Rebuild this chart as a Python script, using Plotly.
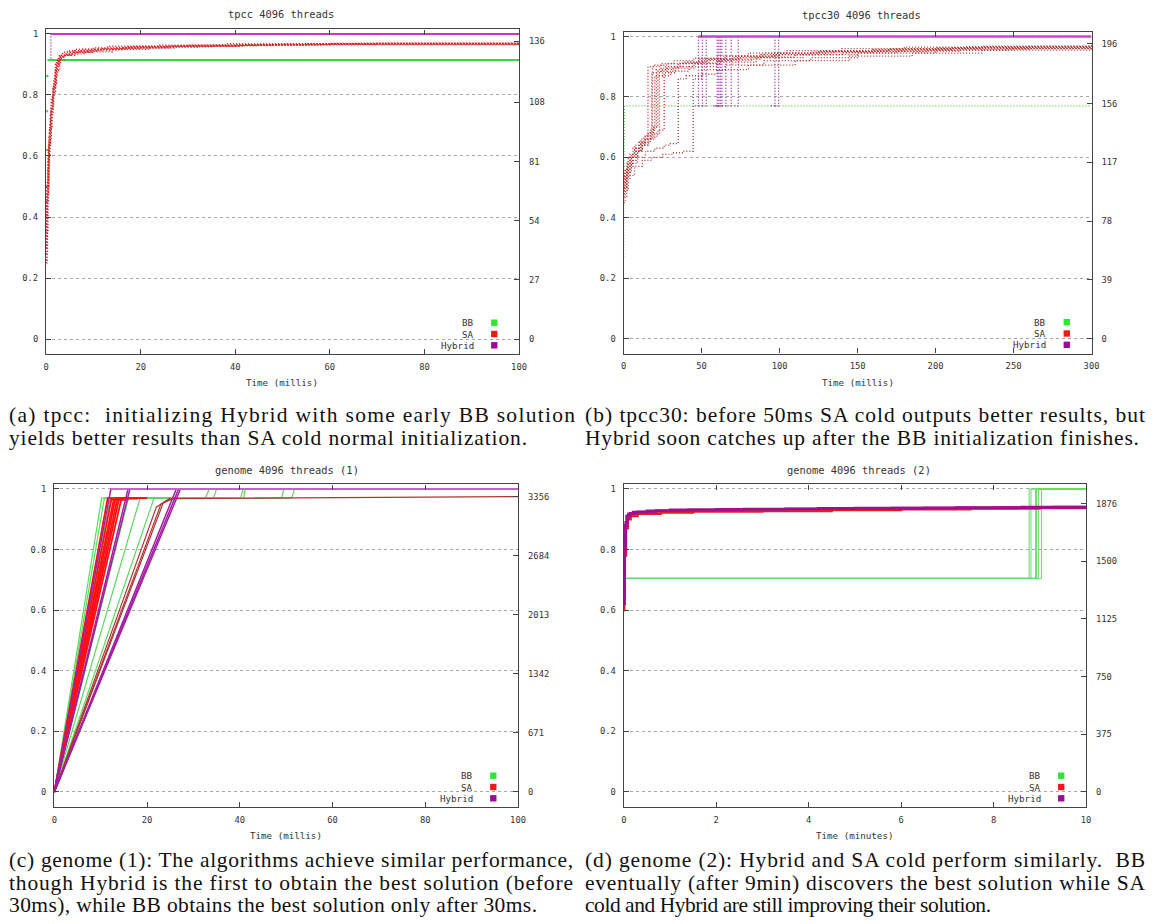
import json
import plotly.graph_objects as go

W, H = 1155, 924

# ------------------------------------------------------------------ data
Y_TICKS = [0, 0.2, 0.4, 0.6, 0.8, 1.0]
Y_RANGE = [-0.05, 1.015]

# (a) tpcc 4096 threads, time in ms
A_X_TICKS = [0, 20, 40, 60, 80, 100]
A_R_TICKS = [0, 27, 54, 81, 108, 136]
A_R_SCALE = 139.2
A_BB_EARLY_X = [0.10, 0.15, 0.20, 0.25]
A_BB_EARLY_Y = [0.50, 0.62, 0.747, 0.862]
A_BB_X = [0.3, 100]
A_BB_Y = [0.915, 0.915]
A_HYB_X = [1.0, 1.0, 100]
A_HYB_Y = [0.92, 1.0, 1.0]
A_SA_X = [
    [0, 0.2, 0.4, 0.7, 1.0, 1.4, 1.8, 2.2, 3, 5, 9, 15, 25, 40, 60, 100],
    [0, 0.3, 0.6, 0.9, 1.2, 1.6, 2.0, 2.6, 4, 7, 12, 20, 35, 55, 100],
    [0, 0.1, 0.5, 0.8, 1.1, 1.5, 1.9, 2.4, 3.5, 6, 10, 18, 30, 50, 100],
    [0, 0.4, 0.8, 1.2, 1.6, 2.0, 2.5, 3.2, 5, 8, 14, 22, 32, 48, 65, 100],
    [0, 0.3, 0.7, 1.3, 1.7, 2.1, 2.8, 4.5, 7.5, 13, 24, 38, 100],
    [0, 0.5, 0.9, 1.5, 1.9, 2.3, 3.0, 4.0, 6.5, 11, 17, 28, 45, 70, 100],
    [0, 0.6, 1.0, 1.5, 2.0, 2.7, 3.8, 6, 10, 16, 26, 42, 100],
    [0, 0.2, 0.6, 1.1, 1.6, 2.2, 2.9, 3.6, 5.5, 9.5, 16, 27, 41, 58, 100],
]
A_SA_Y = [
    [0.25, 0.45, 0.58, 0.68, 0.76, 0.82, 0.87, 0.91, 0.93, 0.94, 0.948, 0.955, 0.96, 0.965, 0.97, 0.97],
    [0.28, 0.52, 0.64, 0.72, 0.79, 0.85, 0.90, 0.925, 0.935, 0.945, 0.952, 0.958, 0.963, 0.968, 0.97],
    [0.30, 0.50, 0.62, 0.71, 0.78, 0.80, 0.86, 0.92, 0.94, 0.95, 0.955, 0.96, 0.964, 0.967, 0.97],
    [0.35, 0.60, 0.70, 0.77, 0.81, 0.88, 0.915, 0.93, 0.935, 0.942, 0.95, 0.957, 0.962, 0.966, 0.969, 0.97],
    [0.40, 0.56, 0.69, 0.80, 0.84, 0.90, 0.93, 0.945, 0.95, 0.96, 0.963, 0.968, 0.97],
    [0.45, 0.63, 0.74, 0.83, 0.88, 0.905, 0.925, 0.935, 0.945, 0.95, 0.958, 0.962, 0.966, 0.97, 0.97],
    [0.50, 0.66, 0.75, 0.82, 0.89, 0.915, 0.93, 0.94, 0.95, 0.955, 0.96, 0.965, 0.97],
    [0.26, 0.48, 0.65, 0.79, 0.83, 0.88, 0.92, 0.93, 0.94, 0.948, 0.954, 0.96, 0.964, 0.967, 0.97],
]

# (b) tpcc30 4096 threads, time in ms
B_X_TICKS = [0, 50, 100, 150, 200, 250, 300]
B_R_TICKS = [0, 39, 78, 117, 156, 196]
B_R_SCALE = 200.6
B_BB_X = [0, 0, 0.5, 300]
B_BB_Y = [0.27, 0.44, 0.77, 0.77]
B_HYB_JUMP_T = [48, 50.5, 53, 60, 61, 62, 63, 65.5, 69, 73.5, 97, 99.4]
B_HYB_START = 0.77
B_HYB_BEST = 1.0
B_SA_X = [
    [0, 1, 2, 4, 6, 9, 12, 15.6, 20, 28, 40, 55, 75, 100, 130, 170, 210, 260, 300],
    [0, 1.5, 3, 5, 8, 11, 14, 18, 24, 35, 50, 70, 95, 125, 160, 200, 250, 300],
    [0, 1, 2.5, 4, 7, 10, 13, 16, 19, 21, 27, 38, 52, 72, 98, 135, 180, 230, 300],
    [0, 2, 4, 6, 9, 12, 16, 20, 23, 30, 42, 60, 85, 115, 150, 195, 245, 300],
    [0, 1, 3, 5, 8, 12, 17, 22, 26, 33, 45, 62, 88, 120, 160, 210, 260, 300],
    [0, 2, 5, 9, 14, 20, 26, 30, 35, 40, 50, 65, 90, 120, 150, 200, 250, 300],
    [0, 3, 7, 12, 18, 25, 32, 38, 44.6, 50, 60, 80, 110, 145, 185, 230, 300],
    [0, 1, 2, 3, 5, 8, 11, 14, 18.5, 24, 32, 45, 60, 80, 105, 140, 180, 230, 300],
    [0, 1, 3, 6, 10, 14, 17, 20, 25, 32, 44, 60, 82, 110, 140, 175, 215, 260, 300],
    [0, 2, 4, 7, 11, 15, 19.5, 22, 28, 36, 48, 65, 90, 125, 170, 220, 300],
]
B_SA_Y = [
    [0.48, 0.52, 0.55, 0.58, 0.60, 0.62, 0.64, 0.90, 0.905, 0.91, 0.915, 0.925, 0.935, 0.945, 0.952, 0.958, 0.962, 0.966, 0.968],
    [0.50, 0.54, 0.57, 0.60, 0.62, 0.645, 0.66, 0.88, 0.895, 0.91, 0.92, 0.93, 0.94, 0.95, 0.956, 0.962, 0.966, 0.97],
    [0.52, 0.55, 0.58, 0.60, 0.63, 0.65, 0.67, 0.68, 0.70, 0.89, 0.90, 0.915, 0.925, 0.935, 0.945, 0.952, 0.96, 0.965, 0.972],
    [0.47, 0.53, 0.57, 0.60, 0.62, 0.64, 0.66, 0.68, 0.87, 0.885, 0.90, 0.915, 0.93, 0.94, 0.95, 0.955, 0.96, 0.962],
    [0.53, 0.56, 0.59, 0.61, 0.63, 0.65, 0.67, 0.69, 0.88, 0.895, 0.91, 0.925, 0.94, 0.948, 0.957, 0.963, 0.967, 0.97],
    [0.50, 0.55, 0.58, 0.60, 0.62, 0.63, 0.64, 0.645, 0.86, 0.87, 0.89, 0.905, 0.92, 0.93, 0.945, 0.955, 0.96, 0.965],
    [0.49, 0.54, 0.57, 0.59, 0.60, 0.61, 0.615, 0.62, 0.86, 0.875, 0.89, 0.905, 0.92, 0.935, 0.945, 0.955, 0.96],
    [0.45, 0.50, 0.53, 0.56, 0.59, 0.62, 0.64, 0.66, 0.90, 0.91, 0.92, 0.928, 0.935, 0.945, 0.953, 0.96, 0.965, 0.968, 0.972],
    [0.51, 0.56, 0.60, 0.63, 0.65, 0.67, 0.69, 0.87, 0.89, 0.90, 0.912, 0.922, 0.932, 0.94, 0.946, 0.952, 0.958, 0.962, 0.965],
    [0.54, 0.58, 0.61, 0.64, 0.66, 0.68, 0.70, 0.885, 0.90, 0.912, 0.925, 0.935, 0.945, 0.952, 0.96, 0.966, 0.97],
]

# (c) genome 4096 threads (1), time in ms
C_X_TICKS = [0, 20, 40, 60, 80, 100]
C_R_TICKS = [0, 671, 1342, 2013, 2684, 3356]
C_R_SCALE = 3442
C_BB_X = [
    [0, 10.2, 32.6, 33.4, 100],
    [0, 10.8, 34.3, 35.0, 100],
    [0, 12.1, 40.2, 40.7, 100],
    [0, 16.0, 40.8, 41.2, 100],
    [0, 18.5, 49.0, 49.5, 100],
    [0, 21.5, 51.2, 51.8, 100],
]
C_BB_Y = [[0, 0.97, 0.97, 1.0, 1.0]] * 6
C_SA_X = [
    [0, 11.5, 20], [0, 12.3, 15], [0, 12.8, 16], [0, 13.2, 17],
    [0, 13.6, 18], [0, 14.0, 19], [0, 14.5, 20],
]
C_SA_Y = [
    [0, 0.97, 0.97], [0, 0.965, 0.965], [0, 0.965, 0.965], [0, 0.97, 0.97],
    [0, 0.968, 0.968], [0, 0.97, 0.97], [0, 0.97, 0.97],
]
C_SA_SLOW_X = [[0, 23.0, 25.5, 100], [0, 22.0, 24.0, 26.0], [0, 23.5, 25.0]]
C_SA_SLOW_Y = [[0, 0.95, 0.968, 0.975], [0, 0.94, 0.96, 0.97], [0, 0.955, 0.97]]
C_HYB_X = [[0, 12.2, 100], [0, 15.9, 100], [0, 16.3, 100],
           [0, 26.3, 100], [0, 26.8, 100], [0, 27.2, 100]]
C_HYB_Y = [[0, 1.0, 1.0]] * 6

# (d) genome 4096 threads (2), time in minutes
D_X_TICKS = [0, 2, 4, 6, 8, 10]
D_R_TICKS = [0, 375, 750, 1125, 1500, 1876]
D_R_SCALE = 1970
D_BB_JUMP_T = [8.77, 8.81, 8.91, 8.93, 8.97, 9.04]
D_BB_START = 0.705
D_BB_BEST = 1.0
D_SA_X = [
    [0, 0.01, 0.02, 0.04, 0.07, 0.12, 0.25, 0.6, 1.2, 2.5, 4.0, 5.5, 7.0, 8.5, 10],
    [0, 0.02, 0.05, 0.09, 0.15, 0.3, 0.8, 1.5, 3.0, 4.5, 6.0, 7.5, 9.0, 10],
]
D_SA_Y = [
    [0.60, 0.72, 0.82, 0.88, 0.905, 0.915, 0.92, 0.925, 0.928, 0.93, 0.932, 0.934, 0.936, 0.938, 0.938],
    [0.62, 0.78, 0.87, 0.90, 0.91, 0.918, 0.922, 0.925, 0.927, 0.93, 0.933, 0.935, 0.937, 0.937],
]
D_HYB_X = [
    [0, 0.01, 0.03, 0.06, 0.1, 0.2, 0.5, 1.0, 2.0, 3.5, 5.0, 6.5, 8.0, 9.3, 10],
    [0, 0.02, 0.04, 0.08, 0.14, 0.3, 0.7, 1.4, 2.6, 4.2, 5.8, 7.2, 8.6, 10],
]
D_HYB_Y = [
    [0.62, 0.80, 0.88, 0.91, 0.918, 0.924, 0.928, 0.931, 0.933, 0.935, 0.937, 0.938, 0.939, 0.94, 0.94],
    [0.64, 0.82, 0.89, 0.912, 0.92, 0.925, 0.929, 0.931, 0.934, 0.936, 0.937, 0.939, 0.94, 0.94],
]

TITLES = ["tpcc 4096 threads", "tpcc30 4096 threads",
          "genome 4096 threads (1)", "genome 4096 threads (2)"]
XTITLES = ["Time (millis)", "Time (millis)", "Time (millis)", "Time (minutes)"]
LEGEND_NAMES = ["BB", "SA", "Hybrid"]
CAPTIONS = [
    ["(a) tpcc:  initializing Hybrid with some early BB solution",
     "yields better results than SA cold normal initialization."],
    ["(b) tpcc30: before 50ms SA cold outputs better results, but",
     "Hybrid soon catches up after the BB initialization finishes."],
    ["(c) genome (1): The algorithms achieve similar performance,",
     "though Hybrid is the first to obtain the best solution (before",
     "30ms), while BB obtains the best solution only after 30ms."],
    ["(d) genome (2): Hybrid and SA cold perform similarly.  BB",
     "eventually (after 9min) discovers the best solution while SA",
     "cold and Hybrid are still improving their solution."],
]

# ------------------------------------------------------------------ styling / layout
C_BB = "#2ee62e"
C_SA = "#ee1a1a"
C_HYB = "#9c0a9c"
MONO = "DejaVu Sans Mono"
TXT = "#333333"
DOTS = "1px,2px"

# plot area in pixels: left, right, y-pixel of value 0, pixels per unit of y
PANELS = [
    dict(x0=43.5, x1=521.0, zero=339.0, unit=305.0),
    dict(x0=626.6, x1=1099.0, zero=338.5, unit=302.0),
    dict(x0=51.8, x1=520.0, zero=792.0, unit=303.0),
    dict(x0=626.8, x1=1093.4, zero=792.0, unit=303.0),
]
X_RANGES = [[0, 100], [0, 300], [0, 100], [0, 10]]
X_TICKS = [A_X_TICKS, B_X_TICKS, C_X_TICKS, D_X_TICKS]
R_TICKS = [A_R_TICKS, B_R_TICKS, C_R_TICKS, D_R_TICKS]
R_SCALE = [A_R_SCALE, B_R_SCALE, C_R_SCALE, D_R_SCALE]
TITLE_POS = [(281, 14), (867, 15), (287, 470), (864, 470)]
XTITLE_POS = [(282, 382), (863, 382), (286, 835.5), (860, 835.5)]
CAPTION_POS = [(5, 415), (587, 415), (5, 860), (587, 860)]
CAPTION_STEP = 22.5
# target pixel widths of caption lines (justified text)
CAPTION_WIDTHS = [[566, 518], [560, 554], [564, 564, 528], [560, 560, 406]]


def ref(kind, n):
    return kind if n == 1 else f"{kind}{n}"


def px(x):
    return x / W


def py(y):
    return 1 - y / H


fig = go.Figure()


def add(i, x, y, color, width=1.2, dash="solid", shape="linear", mode="lines", msize=2):
    fig.add_trace(go.Scatter(
        x=x, y=y, mode=mode, line=dict(color=color, width=width, dash=dash, shape=shape),
        marker=dict(color=color, size=msize), xaxis=ref("x", i + 1), yaxis=ref("y", i + 1),
        showlegend=False, hoverinfo="skip"))


# (a)
add(0, A_BB_EARLY_X, A_BB_EARLY_Y, C_BB, mode="markers", msize=2.5)
add(0, A_BB_X, A_BB_Y, "#3ad83a", width=2)
for k, (xs, ys) in enumerate(zip(A_SA_X, A_SA_Y)):
    add(0, xs, ys, "#e81c1c" if k % 3 else "#b53a3a", width=1.4, dash=DOTS, shape="hv")
add(0, A_HYB_X[:2], A_HYB_Y[:2], "#b020b0", width=1.5, dash=DOTS)
add(0, A_HYB_X[1:], A_HYB_Y[1:], "#cc33cc", width=2)

# (b)
add(1, B_BB_X, B_BB_Y, "#44cc44", width=1.3, dash=DOTS)
for k, (xs, ys) in enumerate(zip(B_SA_X, B_SA_Y)):
    add(1, xs, ys, "#e02020" if k % 4 == 0 else "#a83838", width=1.3, dash=DOTS, shape="hv")
for t in B_HYB_JUMP_T:
    add(1, [t - 2.5, t, t], [B_HYB_START, B_HYB_START, B_HYB_BEST], "#a01aa0", width=1.3, dash=DOTS)
add(1, [min(B_HYB_JUMP_T), 300], [B_HYB_BEST, B_HYB_BEST], "#cc44cc", width=2.5)

# (c)
for xs, ys in zip(C_BB_X, C_BB_Y):
    add(2, xs, ys, "#5ada5a", width=1.2)
for xs, ys in zip(C_SA_X, C_SA_Y):
    add(2, xs, ys, "#ff1010", width=1.8)
for xs, ys in zip(C_SA_SLOW_X, C_SA_SLOW_Y):
    add(2, xs, ys, "#b03434", width=1.2)
for xs, ys in zip(C_HYB_X, C_HYB_Y):
    add(2, xs, ys, "#a41ea4", width=1.5)
add(2, [min(h[1] for h in C_HYB_X), 100], [1.0, 1.0], "#c880c8", width=1.5)

# (d)
for t in D_BB_JUMP_T:
    add(3, [0, t, 10], [D_BB_START, D_BB_BEST, D_BB_BEST], "#66dd66", width=1, shape="hv")
for xs, ys in zip(D_SA_X, D_SA_Y):
    add(3, xs, ys, "#e02020", width=2.2, shape="hv")
for xs, ys in zip(D_HYB_X, D_HYB_Y):
    add(3, xs, ys, "#a0108c", width=2.6, shape="hv")

layout = dict(
    width=W, height=H, margin=dict(l=0, r=0, t=0, b=0),
    paper_bgcolor="white", plot_bgcolor="white", showlegend=False,
)
annotations = []
shapes = []
axis_line = dict(showline=True, linecolor="#444444", linewidth=1.3, zeroline=False)
tickfont = dict(family=MONO, size=8.8, color=TXT)
justify = {}

for i, p in enumerate(PANELS):
    n = i + 1
    n2 = i + 5
    top = p["zero"] - Y_RANGE[1] * p["unit"]
    bot = p["zero"] - Y_RANGE[0] * p["unit"]
    ydom = [py(bot), py(top)]
    layout[ref("xaxis", n)] = dict(
        domain=[px(p["x0"]), px(p["x1"])], range=X_RANGES[i], anchor=ref("y", n),
        tickmode="array", tickvals=X_TICKS[i], ticks="inside", ticklen=5, tickcolor="#444444",
        mirror="ticks", showgrid=False, tickfont=tickfont, ticklabelstandoff=4, **axis_line)
    layout[ref("yaxis", n)] = dict(
        domain=ydom, range=Y_RANGE, anchor=ref("x", n),
        tickmode="array", tickvals=Y_TICKS, ticks="inside", ticklen=5, tickcolor="#444444",
        mirror=True, showgrid=True, gridcolor="#a8a8a8", griddash="dot", gridwidth=1,
        tickfont=tickfont, ticklabelstandoff=5, **axis_line)
    s = R_SCALE[i]
    layout[ref("yaxis", n2)] = dict(
        overlaying=ref("y", n), side="right", anchor=ref("x", n),
        range=[Y_RANGE[0] * s, Y_RANGE[1] * s], tickmode="array", tickvals=R_TICKS[i],
        ticks="inside", ticklen=5, tickcolor="#444444", showgrid=False, zeroline=False,
        showline=False, tickfont=tickfont, ticklabelstandoff=9)
    fig.add_trace(go.Scatter(x=[None], y=[None], xaxis=ref("x", n), yaxis=ref("y", n2),
                             showlegend=False, hoverinfo="skip"))

    tx, ty = TITLE_POS[i]
    annotations.append(dict(text=TITLES[i], x=px(tx), y=py(ty), xref="paper", yref="paper",
                            xanchor="center", yanchor="middle", showarrow=False,
                            font=dict(family=MONO, size=10.4, color=TXT)))
    ax, ay = XTITLE_POS[i]
    annotations.append(dict(text=XTITLES[i], x=px(ax), y=py(ay), xref="paper", yref="paper",
                            xanchor="center", yanchor="middle", showarrow=False,
                            font=dict(family=MONO, size=9.2, color=TXT)))
    # legend
    for j, (name, col) in enumerate(zip(LEGEND_NAMES, [C_BB, C_SA, C_HYB])):
        ly = p["zero"] - 16.3 + j * 11.3
        annotations.append(dict(text=name, x=px(p["x1"] - 43.5), y=py(ly), xref="paper", yref="paper",
                                xanchor="right", yanchor="middle", showarrow=False,
                                font=dict(family=MONO, size=9.2, color=TXT)))
        cx = p["x1"] - 25
        shapes.append(dict(type="rect", xref="paper", yref="paper",
                           x0=px(cx - 3.2), x1=px(cx + 3.2), y0=py(ly + 3.2), y1=py(ly - 3.2),
                           fillcolor=col, line=dict(width=0)))
    # caption
    cx0, cy0 = CAPTION_POS[i]
    for j, line in enumerate(CAPTIONS[i]):
        justify[line] = CAPTION_WIDTHS[i][j]
        annotations.append(dict(text=line, x=px(cx0), y=py(cy0 + j * CAPTION_STEP),
                                xref="paper", yref="paper", xanchor="left", yanchor="middle",
                                align="left", showarrow=False, borderpad=0,
                                font=dict(family="Liberation Serif", size=21.5, color="#111111")))

layout["annotations"] = annotations
layout["shapes"] = shapes
fig.update_layout(**layout)

post = """
document.body.style.margin = '0';
document.body.style.overflow = 'hidden';
var J = %s;
document.querySelectorAll('text.annotation-text').forEach(function (t) {
  var w = J[t.textContent];
  if (w) { t.setAttribute('textLength', w); t.setAttribute('lengthAdjust', 'spacing'); }
});
""" % json.dumps(justify)

fig.write_html("out.html", post_script=post, config={"displayModeBar": False})
